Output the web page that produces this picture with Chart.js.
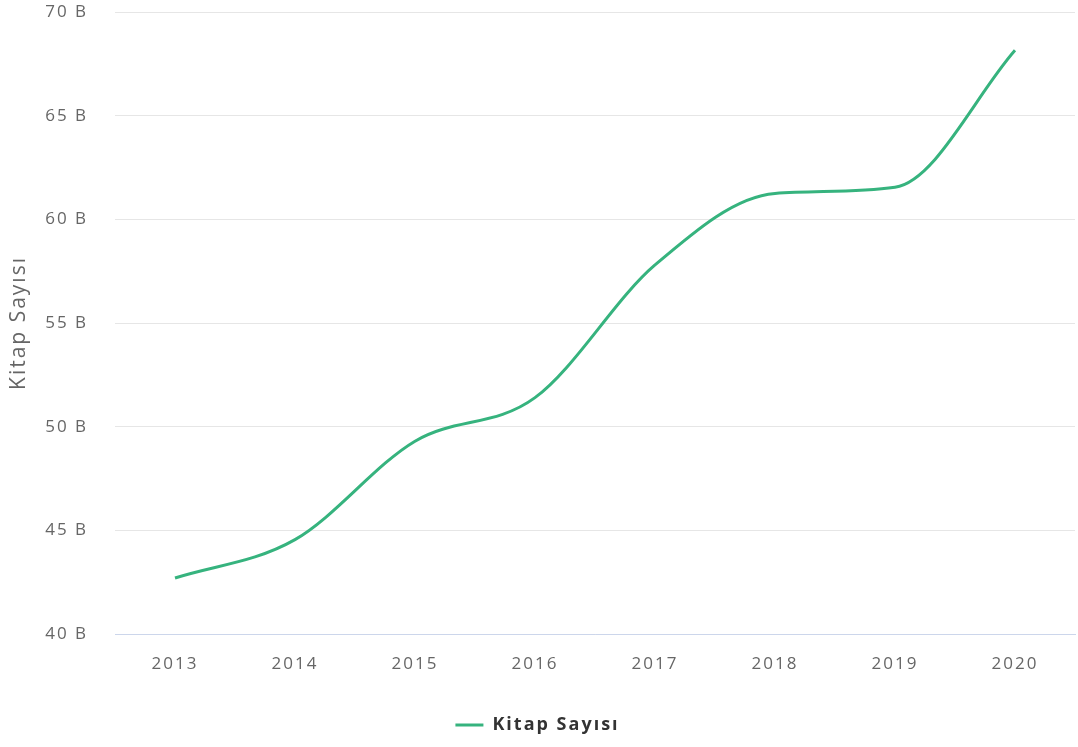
<!DOCTYPE html>
<html>
<head>
<meta charset="utf-8">
<script src="https://cdn.jsdelivr.net/npm/chart.js@4"></script>
<style>
html,body{margin:0;padding:0;background:#fff;}
#wrap{width:1078px;height:747px;}
</style>
</head>
<body>
<div id="wrap"><canvas id="c" width="1078" height="747"></canvas></div>
<script>
const years = ["2013","2014","2015","2016","2017","2018","2019","2020"];
const kitapSayisi = [42.7, 44.55, 49.3, 51.4, 57.8, 61.25, 61.55, 68.15];
const yTicks = [40, 45, 50, 55, 60, 65, 70];
const seriesName = "Kitap Sayısı";
const axisTitle = "Kitap Sayısı";

const FONT = "'Open Sans', 'DejaVu Sans', sans-serif";

const spacingPlugin = {
  id: 'spacing',
  beforeUpdate(chart) { chart.ctx.letterSpacing = '2px'; },
  beforeDraw(chart) { chart.ctx.letterSpacing = '2px'; }
};

new Chart(document.getElementById('c'), {
  type: 'line',
  plugins: [spacingPlugin],
  data: {
    labels: years,
    datasets: [{
      label: seriesName,
      data: kitapSayisi,
      borderColor: '#36b37e',
      backgroundColor: '#36b37e',
      borderWidth: 3,
      pointRadius: 0,
      pointHoverRadius: 0,
      tension: 0.4,
      cubicInterpolationMode: 'monotone',
      fill: false
    }]
  },
  options: {
    responsive: false,
    animation: false,
    devicePixelRatio: 1,
    layout: { padding: { top: 12, right: 3, left: 0, bottom: 3 } },
    plugins: {
      tooltip: { enabled: false },
      legend: {
        position: 'bottom',
        labels: {
          usePointStyle: true,
          pointStyle: 'line',
          pointStyleWidth: 28,
          boxHeight: 3,
          color: '#333333',
          font: { family: FONT, size: 18, weight: 'bold' },
          padding: 12
        }
      }
    },
    scales: {
      x: {
        offset: true,
        grid: { display: false, drawTicks: false },
        border: { display: true, color: '#ccd6eb', width: 1 },
        ticks: {
          color: '#666666',
          font: { family: FONT, size: 17 },
          padding: 20,
          maxRotation: 0
        },
        afterFit: (s) => { s.height = 70; s.paddingLeft = 0; s.paddingRight = 0; }
      },
      y: {
        min: 40,
        max: 70,
        afterBuildTicks: (s) => { s.ticks = yTicks.map(v => ({ value: v })); },
        grid: { color: '#e6e6e6', lineWidth: 1, drawTicks: false },
        border: { display: false },
        ticks: {
          color: '#666666',
          font: { family: FONT, size: 17 },
          padding: 27,
          callback: (v) => v + ' B'
        },
        title: {
          display: true,
          text: axisTitle,
          color: '#666666',
          font: { family: FONT, size: 21 },
          padding: { top: 6, bottom: 0 }
        },
        afterFit: (s) => { s.width = 115; s.paddingTop = 0; s.paddingBottom = 0; }
      }
    }
  }
});
</script>
</body>
</html>
